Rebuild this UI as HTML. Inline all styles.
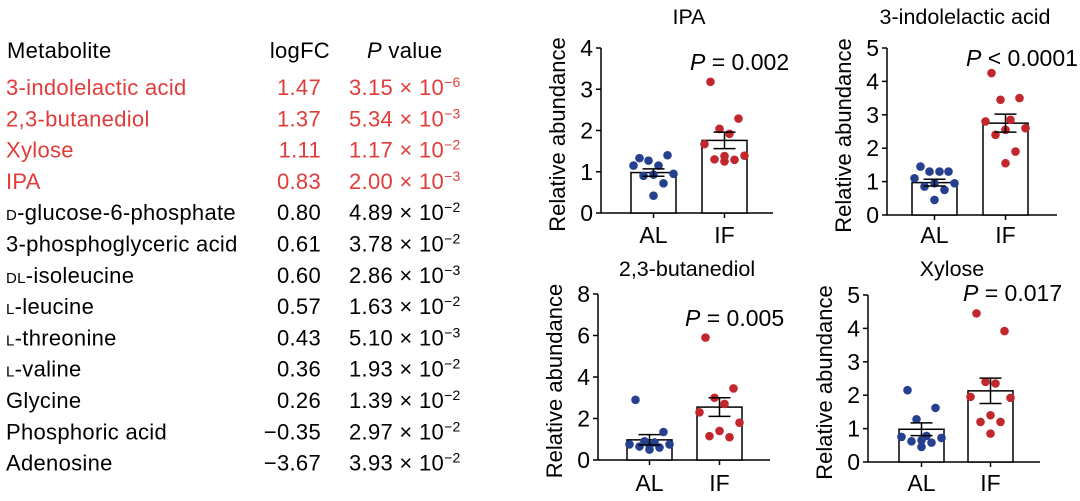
<!DOCTYPE html>
<html><head><meta charset="utf-8"><style>
html,body{margin:0;padding:0;background:#fff;width:1080px;height:501px;overflow:hidden}
svg{display:block;font-family:"Liberation Sans",Arial,sans-serif}
</style></head><body>
<svg id="s" width="1080" height="501" viewBox="0 0 1080 501">
<g id="table" font-size="22" letter-spacing="0.3"></g>
<g id="charts"></g>
</svg>
<script>
const NS="http://www.w3.org/2000/svg";
// ---- table data ----
const tNames=["3-indolelactic acid","2,3-butanediol","Xylose","IPA","D-glucose-6-phosphate","3-phosphoglyceric acid","DL-isoleucine","L-leucine","L-threonine","L-valine","Glycine","Phosphoric acid","Adenosine"];
const tLogFC=["1.47","1.37","1.11","0.83","0.80","0.61","0.60","0.57","0.43","0.36","0.26","\u22120.35","\u22123.67"];
const tPMant=["3.15","5.34","1.17","2.00","4.89","3.78","2.86","1.63","5.10","1.93","1.39","2.97","3.93"];
const tPExp=["\u22126","\u22123","\u22122","\u22123","\u22122","\u22122","\u22123","\u22122","\u22123","\u22122","\u22122","\u22122","\u22122"];
const tPrefix=["","","","","D","","DL","L","L","L","","",""];
function el(tag,attrs,parent){const e=document.createElementNS(NS,tag);for(const k in attrs)e.setAttribute(k,attrs[k]);parent.appendChild(e);return e;}
const T=document.getElementById('table');
let h=el('text',{x:7,y:58},T);h.textContent="Metabolite";


h=el('text',{x:330,y:58,'text-anchor':'end'},T);h.textContent="logFC";


h=el('text',{x:367,y:58},T);h.innerHTML='<tspan font-style="italic">P</tspan> value';


tNames.forEach((n,i)=>{
  const y=95+i*31.3, col=i<4?"#e03c3a":"#000";
  const t=el('text',{x:6,y:y,fill:col},T);
  
  
  const pre=tPrefix[i];
  if(pre){t.innerHTML='<tspan font-size="15">'+pre+'</tspan>'+n.slice(pre.length);}else t.textContent=n;
  const l=el('text',{x:321,y:y,fill:col,'text-anchor':'end'},T);l.textContent=tLogFC[i];
  
  
  const p=el('text',{x:349,y:y,fill:col},T);
  p.innerHTML=tPMant[i]+' \u00d7 10<tspan font-size="14" dy="-8">'+tPExp[i]+'</tspan>';
  
  
});
// ---- chart data ----
const chartTitles=["IPA","3-indolelactic acid","2,3-butanediol","Xylose"];
const pLabels=["= 0.002","< 0.0001","= 0.005","= 0.017"];
const yMaxes=[4,5,8,5];
const yTickSteps=[1,1,2,1];
const groups=["AL","IF"];
const alMeans=[0.98,0.97,0.97,0.98];
const alSems=[0.09,0.1,0.25,0.19];
const ifMeans=[1.76,2.75,2.55,2.13];
const ifSems=[0.2,0.27,0.45,0.38];
const alPoints=[
 [1.33,1.4,1.27,1.15,1.15,0.95,0.93,0.9,0.72,0.42],
 [1.45,1.3,1.3,1.3,1.1,0.95,0.95,0.85,0.75,0.45],
 [2.9,1.35,0.9,0.85,0.75,0.75,0.7,0.65,0.6,0.5],
 [2.15,1.62,1.28,0.78,0.75,0.72,0.65,0.62,0.58,0.45]];
const ifPoints=[
 [3.18,2.29,2.04,1.92,1.67,1.39,1.38,1.3,1.29,1.25],
 [4.25,3.5,3.45,2.85,2.8,2.6,2.55,2.4,1.9,1.55],
 [5.9,3.45,3.0,2.7,2.3,1.8,1.4,1.15,1.1],
 [4.45,3.92,2.4,2.35,1.95,1.92,1.4,1.2,1.2,0.85]];
// layout (not data)
const panels=[
 {ax:601,y0:213,yTop:48,bar1:631,bar2:702,xEnd:773,tx:689,ty:24,px:690,py:70,ly:243},
 {ax:887,y0:215,yTop:48,bar1:912,bar2:983,xEnd:1057,tx:965,ty:24,px:966,py:66,ly:243},
 {ax:598,y0:460,yTop:294,bar1:627,bar2:697,xEnd:770,tx:687,ty:276,px:685,py:326,ly:491},
 {ax:868,y0:462,yTop:295,bar1:899,bar2:968,xEnd:1040,tx:952,ty:276,px:963,py:301,ly:491}];
const C=document.getElementById('charts');
const jit=[-14,14,-5,5,-20,20,0,-10,10,0];
chartTitles.forEach((title,i)=>{
  const L=panels[i];
  const g=el('g',{},C);
  
  
  const y=v=>L.y0-(v/yMaxes[i])*(L.y0-L.yTop);
  const bw=45;
  const t=el('text',{x:L.tx,y:L.ty,'text-anchor':'middle','font-size':21.5},g);t.textContent=title;
  
  
  const p=el('text',{x:L.px,y:L.py,'font-size':23},g);p.innerHTML='<tspan font-style="italic">P</tspan> '+pLabels[i];
  
  
  const yt=el('text',{transform:`translate(${L.ax-36},${(L.y0+L.yTop)/2+4}) rotate(-90)`,'text-anchor':'middle','font-size':22},g);yt.textContent="Relative abundance";
  
  
  const yl=el('line',{x1:L.ax,x2:L.ax,y1:L.yTop,y2:L.y0,stroke:'#000','stroke-width':1.5},g);
  
  
  const xl=el('line',{x1:L.ax,x2:L.xEnd,y1:L.y0,y2:L.y0,stroke:'#000','stroke-width':1.5},g);
  
  
  for(let v=0;v<=yMaxes[i];v+=yTickSteps[i]){
    const tk=el('line',{x1:L.ax-5,x2:L.ax,y1:y(v),y2:y(v),stroke:'#000','stroke-width':1.5},g);
    
    
    const tl=el('text',{x:L.ax-8,y:y(v)+8,'text-anchor':'end','font-size':23},g);tl.textContent=v;
    
    
  }
  const means=[alMeans[i],ifMeans[i]],sems=[alSems[i],ifSems[i]],pts=[alPoints[i],ifPoints[i]];
  const cols=["#25408f","#c1272d"];
  [L.bar1,L.bar2].forEach((bx,k)=>{
    const cx=bx+bw/2;
    const tk=el('line',{x1:cx,x2:cx,y1:L.y0,y2:L.y0+5,stroke:'#000','stroke-width':1.5},g);
    
    
    const xlb=el('text',{x:cx,y:L.ly,'text-anchor':'middle','font-size':23},g);xlb.textContent=groups[k];
    
    
    const r=el('rect',{x:bx,y:y(means[k]),width:bw,height:L.y0-y(means[k]),fill:'#fff',stroke:'#000','stroke-width':1.5},g);
    
    
    pts[k].forEach((v,j)=>{
      const c=el('circle',{cx:cx+jit[j%jit.length],cy:y(v),r:4.3,fill:cols[k]},g);
      
      
    });
    const e=el('path',{d:`M${cx},${y(means[k]-sems[k])}V${y(means[k]+sems[k])}M${cx-11},${y(means[k]+sems[k])}H${cx+11}M${cx-11},${y(means[k]-sems[k])}H${cx+11}`,stroke:'#000','stroke-width':1.5,fill:'none'},g);
    
    
  });
});
</script>
</body></html>
